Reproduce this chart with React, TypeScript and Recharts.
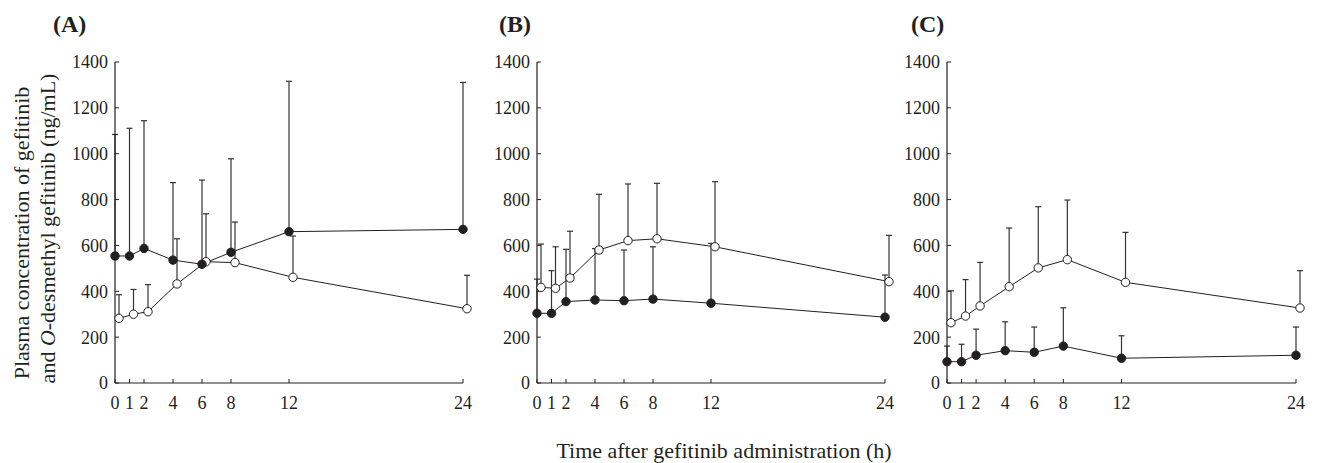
import React from 'react';
import { LineChart, Line, XAxis, YAxis, ErrorBar } from 'recharts';

// Sampling times (h)
const times = [0, 1, 2, 4, 6, 8, 12, 24];
const xTicks = [0, 1, 2, 4, 6, 8, 12, 24];
const yTicks = [0, 200, 400, 600, 800, 1000, 1200, 1400];

// Panel A
const aFilled = [554, 554, 587, 536, 518, 570, 660, 670];
const aFilledSd = [1084, 1111, 1144, 874, 885, 978, 1316, 1311];
const aOpen = [282, 300, 311, 432, 529, 525, 461, 324];
const aOpenSd = [385, 408, 429, 629, 738, 702, 641, 470];

// Panel B
const bFilled = [304, 304, 355, 362, 359, 366, 348, 287];
const bFilledSd = [453, 490, 583, 586, 580, 594, 609, 471];
const bOpen = [417, 413, 458, 580, 621, 629, 594, 442];
const bOpenSd = [606, 594, 662, 823, 868, 871, 878, 644];

// Panel C
const cFilled = [93, 93, 121, 141, 134, 161, 108, 121];
const cFilledSd = [161, 169, 235, 267, 244, 328, 206, 244];
const cOpen = [263, 292, 336, 420, 502, 538, 439, 327];
const cOpenSd = [402, 451, 526, 676, 769, 798, 657, 490];

const panelLabels = ['(A)', '(B)', '(C)'];
const yLabelLine1 = 'Plasma concentration of gefitinib';
const yLabelLine2a = 'and ';
const yLabelLine2b = 'O';
const yLabelLine2c = '-desmethyl gefitinib (ng/mL)';
const xTitle = 'Time after gefitinib administration (h)';

const INK = '#231f20';
const FONT = '"Liberation Serif", "Times New Roman", serif';

function build(filled: number[], filledSd: number[], open: number[], openSd: number[]) {
  return times.map((t, i) => ({
    t,
    filled: filled[i],
    filledErr: [0, filledSd[i] - filled[i]],
    open: open[i],
    openErr: [0, openSd[i] - open[i]],
  }));
}

const panels = [
  { data: build(aFilled, aFilledSd, aOpen, aOpenSd), plotLeft: 115, plotWidth: 348, marginLeft: 55 },
  { data: build(bFilled, bFilledSd, bOpen, bOpenSd), plotLeft: 537, plotWidth: 348, marginLeft: 5 },
  { data: build(cFilled, cFilledSd, cOpen, cOpenSd), plotLeft: 947, plotWidth: 349, marginLeft: 5 },
];

const PLOT_TOP = 62;
const PLOT_H = 321;
const Y_AXIS_W = 60;
const X_AXIS_H = 40;
const OPEN_SHIFT_PX = 4;

function Panel({ data, plotLeft, plotWidth, marginLeft }: any) {
  const width = marginLeft + Y_AXIS_W + plotWidth + 10;
  const height = PLOT_TOP + PLOT_H + X_AXIS_H;
  const left = plotLeft - Y_AXIS_W - marginLeft;
  const tick = { fontSize: 18, fill: INK, fontFamily: FONT };
  return (
    <div style={{ position: 'absolute', left, top: 0 }}>
      <LineChart
        width={width}
        height={height}
        data={data}
        margin={{ top: PLOT_TOP, right: 10, bottom: 0, left: marginLeft }}
      >
        <XAxis
          dataKey="t"
          type="number"
          domain={[0, 24]}
          ticks={xTicks}
          interval={0}
          tickSize={-4}
          tickMargin={17}
          height={X_AXIS_H}
          tick={tick}
          axisLine={{ stroke: INK, strokeWidth: 1.2 }}
          tickLine={{ stroke: INK, strokeWidth: 1 }}
        />
        <XAxis
          xAxisId="shift"
          dataKey="t"
          type="number"
          domain={[0, 24]}
          padding={{ left: OPEN_SHIFT_PX, right: -OPEN_SHIFT_PX }}
          hide
        />
        <YAxis
          type="number"
          domain={[0, 1400]}
          ticks={yTicks}
          interval={0}
          width={Y_AXIS_W}
          tickSize={-4}
          tickMargin={11}
          tick={tick}
          axisLine={{ stroke: INK, strokeWidth: 1.2 }}
          tickLine={{ stroke: INK, strokeWidth: 1 }}
        />
        <Line
          dataKey="open"
          xAxisId="shift"
          type="linear"
          stroke={INK}
          strokeWidth={1}
          isAnimationActive={false}
          dot={{ r: 4.2, fill: '#ffffff', stroke: INK, strokeWidth: 1 }}
          activeDot={false}
        >
          <ErrorBar dataKey="openErr" direction="y" width={3} stroke="#333" strokeWidth={1.2} isAnimationActive={false} />
        </Line>
        <Line
          dataKey="filled"
          type="linear"
          stroke={INK}
          strokeWidth={1}
          isAnimationActive={false}
          dot={{ r: 4.2, fill: INK, stroke: INK, strokeWidth: 1 }}
          activeDot={false}
        >
          <ErrorBar dataKey="filledErr" direction="y" width={3} stroke="#333" strokeWidth={1.2} isAnimationActive={false} />
        </Line>
      </LineChart>
    </div>
  );
}

export default function App() {
  const letterX = [53, 499, 911];
  return (
    <div
      style={{
        position: 'absolute',
        left: 0,
        top: 0,
        width: 1320,
        height: 463,
        background: '#ffffff',
        fontFamily: FONT,
        overflow: 'hidden',
      }}
    >
      {panels.map((p, i) => (
        <Panel key={i} {...p} />
      ))}
      <svg
        width={1320}
        height={463}
        style={{ position: 'absolute', left: 0, top: 0, pointerEvents: 'none' }}
      >
        {panelLabels.map((l, i) => (
          <text key={l} x={letterX[i]} y={32} fontSize={24} fontWeight="bold" fill={INK} fontFamily={FONT}>
            {l}
          </text>
        ))}
        <text
          x={28.5}
          y={233}
          fontSize={22}
          fill={INK}
          fontFamily={FONT}
          textAnchor="middle"
          transform="rotate(-90 28.5 233)"
        >
          {yLabelLine1}
        </text>
        <text
          x={54.5}
          y={228.5}
          fontSize={22}
          fill={INK}
          fontFamily={FONT}
          textAnchor="middle"
          transform="rotate(-90 54.5 228.5)"
        >
          {yLabelLine2a}
          <tspan fontStyle="italic">{yLabelLine2b}</tspan>
          {yLabelLine2c}
        </text>
        <text x={724} y={458} fontSize={22} fill={INK} fontFamily={FONT} textAnchor="middle">
          {xTitle}
        </text>
      </svg>
    </div>
  );
}
